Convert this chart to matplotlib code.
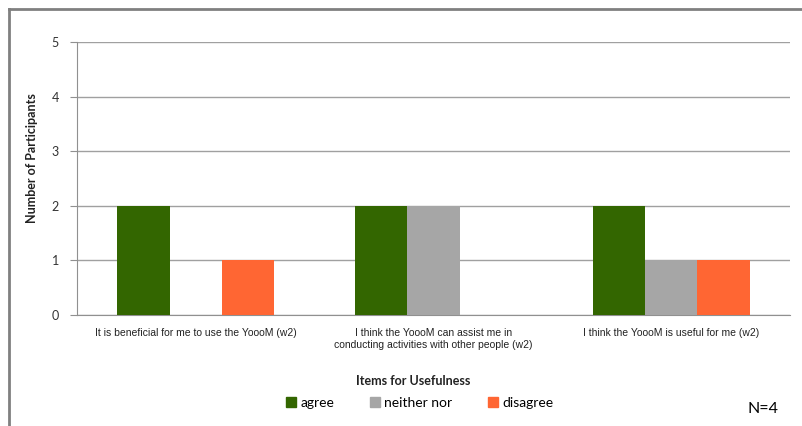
import matplotlib
matplotlib.use("Agg")
import matplotlib.pyplot as plt
from matplotlib.lines import Line2D
from matplotlib.patches import Patch
import numpy as np

categories = ["It is beneficial for me to use the YoooM (w2)",
              "I think the YoooM can assist me in\nconducting activities with other people (w2)",
              "I think the YoooM is useful for me (w2)"]
series_names = ["agree", "neither nor", "disagree"]
agree = [2, 2, 2]
neither = [0, 2, 1]
disagree = [1, 0, 1]
colors = ["#336600", "#A6A6A6", "#FF6633"]
yticks = [0, 1, 2, 3, 4, 5]

W, H = 803, 426
fig = plt.figure(figsize=(W / 100, H / 100), dpi=100)
ax = fig.add_axes([77 / W, 1 - 315 / H, (790 - 77) / W, (315 - 42) / H])

x = np.arange(len(categories))
bw = 0.22
for i, (vals, col) in enumerate(zip([agree, neither, disagree], colors)):
    ax.bar(x + (i - 1) * bw, vals, width=bw, color=col, zorder=3, label=series_names[i])

ax.set_xlim(-0.5, 2.5)
ax.set_ylim(0, 5)
ax.set_yticks(yticks)
ax.set_yticklabels([str(v) for v in yticks], fontsize=9, family="Lato", color="#333333")
ax.yaxis.grid(True, color="#A0A0A0", linewidth=1, zorder=0)
ax.tick_params(axis="y", length=5, color="#909090", pad=8)
ax.set_xticks(x)
ax.set_xticklabels(categories, fontsize=7.5, family="Liberation Sans", color="#222222",
                   linespacing=1.3)
ax.tick_params(axis="x", length=0, pad=9)
for s in ["top", "right"]:
    ax.spines[s].set_visible(False)
ax.spines["left"].set_color("#909090")
ax.spines["bottom"].set_color("#909090")

fig.text(32 / W, 1 - 158 / H, "Number of Participants", rotation=90, ha="center", va="center",
         fontsize=9, fontweight="bold", family="Lato", color="#222222")
fig.text(413 / W, 1 - 381 / H, "Items for Usefulness", ha="center", va="center",
         fontsize=9, fontweight="bold", family="Lato", color="#222222")
fig.text(779 / W, 1 - 409 / H, "N=4", ha="right", va="center", fontsize=11.5, family="Lato", color="black")

handles = [Patch(color=c) for c in colors]
fig.legend(handles, series_names, loc="center", bbox_to_anchor=(420 / W, 1 - 403 / H), ncol=3,
           frameon=False, handlelength=0.7, handleheight=0.7, handletextpad=0.3, columnspacing=2.6,
           prop={"family": "Lato", "size": 10})

# outer border (left and top visible)
fig.add_artist(Line2D([8.5 / W, 8.5 / W], [0, 1 - 8.5 / H], transform=fig.transFigure, color="#808080", lw=2))
fig.add_artist(Line2D([8.5 / W, 1], [1 - 8.5 / H, 1 - 8.5 / H], transform=fig.transFigure, color="#808080", lw=2))

fig.savefig("out.png", dpi=100)
